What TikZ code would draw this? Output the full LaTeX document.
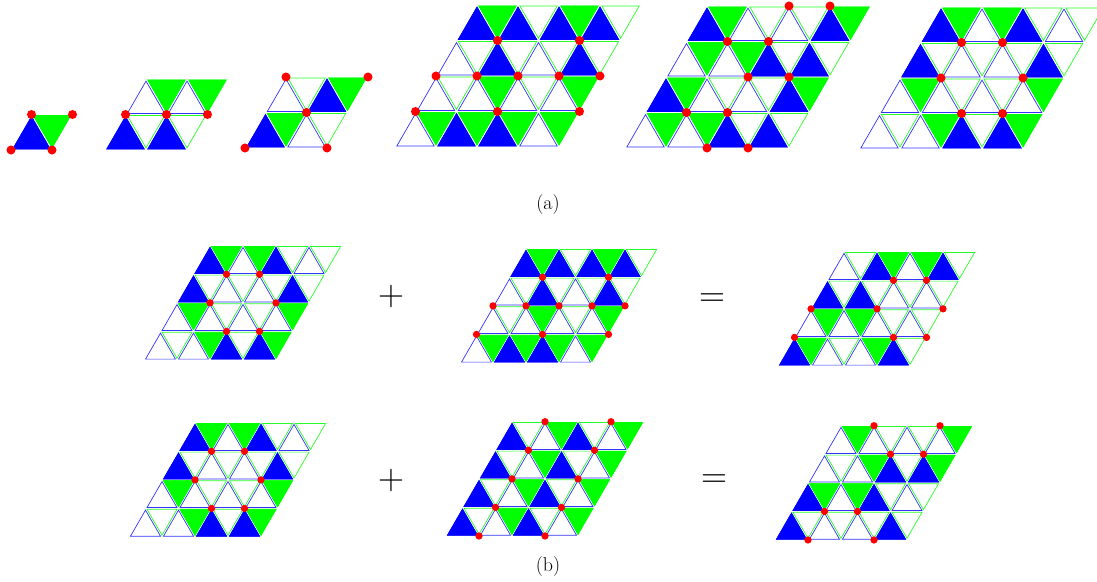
\documentclass[tikz,border=0pt]{standalone}
\usepackage{fontspec}
\definecolor{triblue}{RGB}{0,0,255}
\definecolor{trigreen}{RGB}{0,255,0}

% inset of each triangle towards its centre: a=(1-k)/3, b=(1+2k)/3
\def\ga{0.03}
\def\gb{0.94}

% #1 origin, #2 side, #3 last column, #4 last row,
% #5 filled up cells, #6 filled down cells, #7 sites
\newcommand{\lattice}[7]{%
  \begin{scope}[shift={#1}, x={(#2,0pt)}, y={(0.5*#2,0.866*#2)}]
    \foreach \i in {0,...,#3} \foreach \j in {0,...,#4} {
      \draw[upedge] (\i+\ga,\j+\ga) -- (\i+\gb,\j+\ga) -- (\i+\ga,\j+\gb) -- cycle;
      \draw[downedge] (\i+1-\ga,\j+1-\gb) -- (\i+1-\ga,\j+1-\ga) -- (\i+1-\gb,\j+1-\ga) -- cycle;
    }
    \foreach \i/\j in {#5}
      \filldraw[upfill] (\i+\ga,\j+\ga) -- (\i+\gb,\j+\ga) -- (\i+\ga,\j+\gb) -- cycle;
    \foreach \i/\j in {#6}
      \filldraw[downfill] (\i+1-\ga,\j+1-\gb) -- (\i+1-\ga,\j+1-\ga) -- (\i+1-\gb,\j+1-\ga) -- cycle;
    \foreach \i/\j in {#7}
      \fill[site] (\i,\j) circle[radius=0.11*#2];
  \end{scope}}

\begin{document}
\begin{tikzpicture}[
  x=1pt, y=-1pt,
  upedge/.style={draw=triblue!80, line width=0.7pt},
  downedge/.style={draw=trigreen!85, line width=0.7pt},
  upfill/.style={fill=triblue, draw=triblue, line width=0.7pt},
  downfill/.style={fill=trigreen, draw=trigreen, line width=0.7pt},
  site/.style={fill=red},
  lbl/.style={font=\fontsize{20}{24}\selectfont, inner sep=0pt},
  op/.style={font=\fontsize{36}{40}\selectfont, inner sep=0pt},
]
  \useasboundingbox (0,0) rectangle (1097,581);

  % (a)
  \lattice{(11,150)}{41pt}{0}{0}{0/0}{0/0}{0/0,1/0,0/1,1/1}
  \lattice{(105,150)}{41pt}{1}{1}{0/0,1/0}{0/1,1/1}{0/1,1/1,2/1}
  \lattice{(245,148)}{41pt}{1}{1}{0/0,1/1}{0/0,1/1}{0/0,2/0,1/1,0/2,2/2}
  \lattice{(395,147)}{41pt}{3}{3}
    {1/0,2/0,1/2,3/2,0/3,1/3,2/3,3/3}
    {0/0,1/0,2/0,3/0,1/1,3/1,0/3,2/3}
    {1/3,3/3,0/2,1/2,2/2,3/2,4/2,0/1,2/1,4/1}
  \lattice{(625,148)}{41pt}{3}{3}
    {2/0,3/0,0/1,3/1,2/2,3/2,0/3,3/3}
    {0/0,1/0,0/1,3/1,0/2,1/2,0/3,3/3}
    {2/4,3/4,1/3,2/3,2/2,3/2,1/1,2/1,2/0,3/0}
  \lattice{(859,149)}{41pt}{3}{3}
    {2/0,3/0,0/2,3/2,0/3,2/3}
    {1/0,3/0,0/1,3/1,0/3,1/3}
    {1/3,2/3,1/2,3/2,2/1,3/1}
  \node[lbl] (capa) at (548,205) {(a)};

  % (b), first sum
  \lattice{(144,360)}{33pt}{3}{3}
    {2/0,3/0,0/2,3/2,0/3,2/3}
    {1/0,3/0,0/1,3/1,0/3,1/3}
    {1/3,2/3,1/2,3/2,2/1,3/1}
  \node[op] (plusa) at (391,297) {+};
  \lattice{(460,363)}{33pt}{3}{3}
    {1/0,2/0,1/2,3/2,0/3,1/3,2/3,3/3}
    {0/0,1/0,2/0,3/0,1/1,3/1,0/3,2/3}
    {1/3,3/3,0/2,1/2,2/2,3/2,4/2,0/1,2/1,4/1}
  \node[op] (eqa) at (712,300) {=};
  \lattice{(778,366)}{33pt}{3}{3}
    {0/0,3/0,0/2,1/2,1/3,3/3}
    {0/0,2/0,0/1,1/1,1/3,2/3}
    {2/3,3/3,0/2,2/2,4/2,0/1,3/1,4/1}

  % (b), second sum
  \lattice{(129,537)}{33pt}{3}{3}
    {2/0,3/0,0/2,3/2,0/3,2/3}
    {1/0,3/0,0/1,3/1,0/3,1/3}
    {1/3,2/3,1/2,3/2,2/1,3/1}
  \node[op] (plusb) at (391,481) {+};
  \lattice{(446,536)}{33pt}{3}{3}
    {0/0,2/0,0/1,2/1,0/2,2/2,0/3,2/3}
    {1/0,3/0,1/1,3/1,1/2,3/2,1/3,3/3}
    {1/0,3/0,1/1,3/1,1/2,3/2,1/3,3/3,1/4,3/4}
  \node[op] (eqb) at (714,481) {=};
  \lattice{(775,540)}{33pt}{3}{3}
    {0/0,3/0,0/1,2/1,2/2,3/2}
    {0/1,1/1,1/2,3/2,0/3,3/3}
    {1/4,3/4,2/3,3/3,1/1,2/1,1/0,3/0}
  \node[lbl] (capb) at (548,567) {(b)};
\end{tikzpicture}
\end{document}
